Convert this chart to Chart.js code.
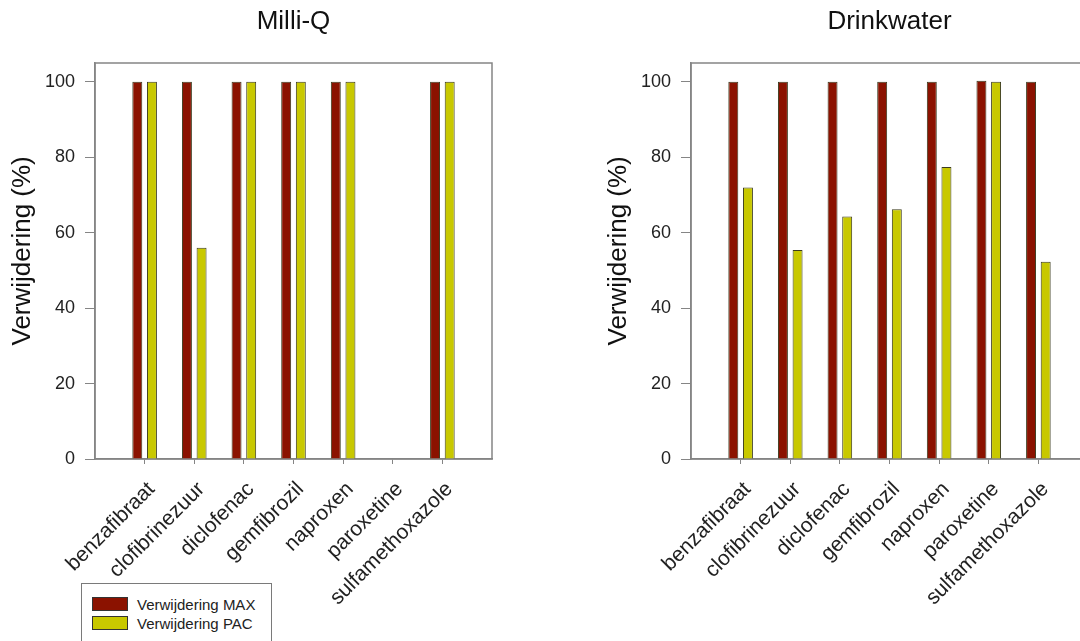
<!DOCTYPE html>
<html><head><meta charset="utf-8">
<script src="https://cdn.jsdelivr.net/npm/chart.js@4.4.1/dist/chart.umd.min.js"></script>
<style>
html,body{margin:0;padding:0;width:1080px;height:641px;overflow:hidden;background:#fff;}
canvas{position:absolute;top:0;}
#c1{left:0px} #c2{left:596px}
#legend{position:absolute;left:81px;top:583px;width:189px;height:80px;border:1px solid #7a7a7a;background:#fff;font-family:"Liberation Sans",Arial,sans-serif;font-size:15px;color:#222;}
.item{position:absolute;left:10px;height:14px;display:flex;align-items:center;white-space:nowrap;}
.sw{width:34px;height:12px;border:1px solid #333;margin-right:9px;box-sizing:content-box;}
</style></head><body>
<canvas id="c1" width="540" height="641"></canvas>
<canvas id="c2" width="540" height="641"></canvas>
<div id="legend"></div>
<script>
// ---- data ----
const categories = ['benzafibraat','clofibrinezuur','diclofenac','gemfibrozil','naproxen','paroxetine','sulfamethoxazole'];
const seriesNames = ['Verwijdering MAX','Verwijdering PAC'];
const milliQMax = [100, 100, 100, 100, 100, null, 100];
const milliQPac = [100, 56, 100, 100, 100, null, 100];
const drinkMax  = [100, 100, 100, 100, 100, 100.3, 100];
const drinkPac  = [72, 55.4, 64.3, 66.2, 77.4, 100, 52.3];
const yTickValues = [0, 20, 40, 60, 80, 100];
const panelTitles = ['Milli-Q', 'Drinkwater'];
const yTitle = 'Verwijdering (%)';

// ---- styles ----
const colors = ['#8b1200', '#c8c800'];
const borderCol = '#3b3b1e';
const axisCol = '#858585';
Chart.defaults.font.family = '"Liberation Sans", Arial, sans-serif';

const framePlugin = {
  id: 'frame',
  beforeDatasetsDraw(chart) {
    const {ctx, chartArea: a} = chart;
    ctx.save();
    ctx.strokeStyle = axisCol;
    ctx.lineWidth = 1.5;
    ctx.strokeRect(a.left, a.top, a.right - a.left, a.bottom - a.top);
    ctx.restore();
  }
};

function toPoints(arr) { return categories.map((c, i) => ({x: i + 1, y: arr[i]})); }

function makeChart(id, title, maxArr, pacArr) {
  return new Chart(document.getElementById(id), {
    type: 'bar',
    data: {
      datasets: [
        {label: seriesNames[0], data: toPoints(maxArr), backgroundColor: colors[0], borderColor: borderCol, borderWidth: 1},
        {label: seriesNames[1], data: toPoints(pacArr), backgroundColor: colors[1], borderColor: borderCol, borderWidth: 1}
      ]
    },
    options: {
      responsive: false,
      animation: false,
      categoryPercentage: 0.59,
      barPercentage: 0.68,
      layout: {padding: {left: 0, right: 48, top: 0, bottom: 0}},
      plugins: {
        legend: {display: false},
        tooltip: {enabled: false},
        title: {display: true, text: title, fullSize: false, color: '#111',
                font: {size: 26, weight: 'normal'}, padding: {top: 6, bottom: 25.8}}
      },
      scales: {
        x: {
          type: 'linear', min: 0, max: categories.length + 1, offset: false,
          afterBuildTicks: s => { s.ticks = categories.map((c, i) => ({value: i + 1})); },
          ticks: {autoSkip: false, minRotation: 45, maxRotation: 45, color: '#222',
                  font: {size: 21}, padding: 13, labelOffset: 7,
                  callback: v => categories[v - 1]},
          grid: {display: true, offset: false, drawOnChartArea: false, drawTicks: true, tickLength: 5, color: axisCol},
          border: {display: true, color: axisCol, width: 1.5},
          afterFit: s => { s.height = 182; }
        },
        y: {
          min: 0, max: 105,
          afterBuildTicks: s => { s.ticks = yTickValues.map(v => ({value: v})); },
          ticks: {color: '#222', font: {size: 18}, padding: 10},
          grid: {display: true, drawOnChartArea: false, drawTicks: true, tickLength: 10, color: axisCol},
          border: {display: true, color: axisCol, width: 1.5},
          title: {display: true, text: '\u2002 ' + yTitle, color: '#111', font: {size: 26}, padding: {top: 7, bottom: 0}},
          afterFit: s => { s.width = 95; }
        }
      }
    },
    plugins: [framePlugin]
  });
}

const ch1 = makeChart('c1', panelTitles[0], milliQMax, milliQPac);
const ch2 = makeChart('c2', panelTitles[1], drinkMax, drinkPac);

// legend (HTML, from datasets)
const lg = document.getElementById('legend');
ch1.data.datasets.forEach((ds, i) => {
  const it = document.createElement('div');
  it.className = 'item';
  it.style.top = (13 + i * 19) + 'px';
  const sw = document.createElement('span');
  sw.className = 'sw';
  sw.style.background = ds.backgroundColor;
  const tx = document.createElement('span');
  tx.textContent = ds.label;
  it.appendChild(sw); it.appendChild(tx);
  lg.appendChild(it);
});
</script>
</body></html>
